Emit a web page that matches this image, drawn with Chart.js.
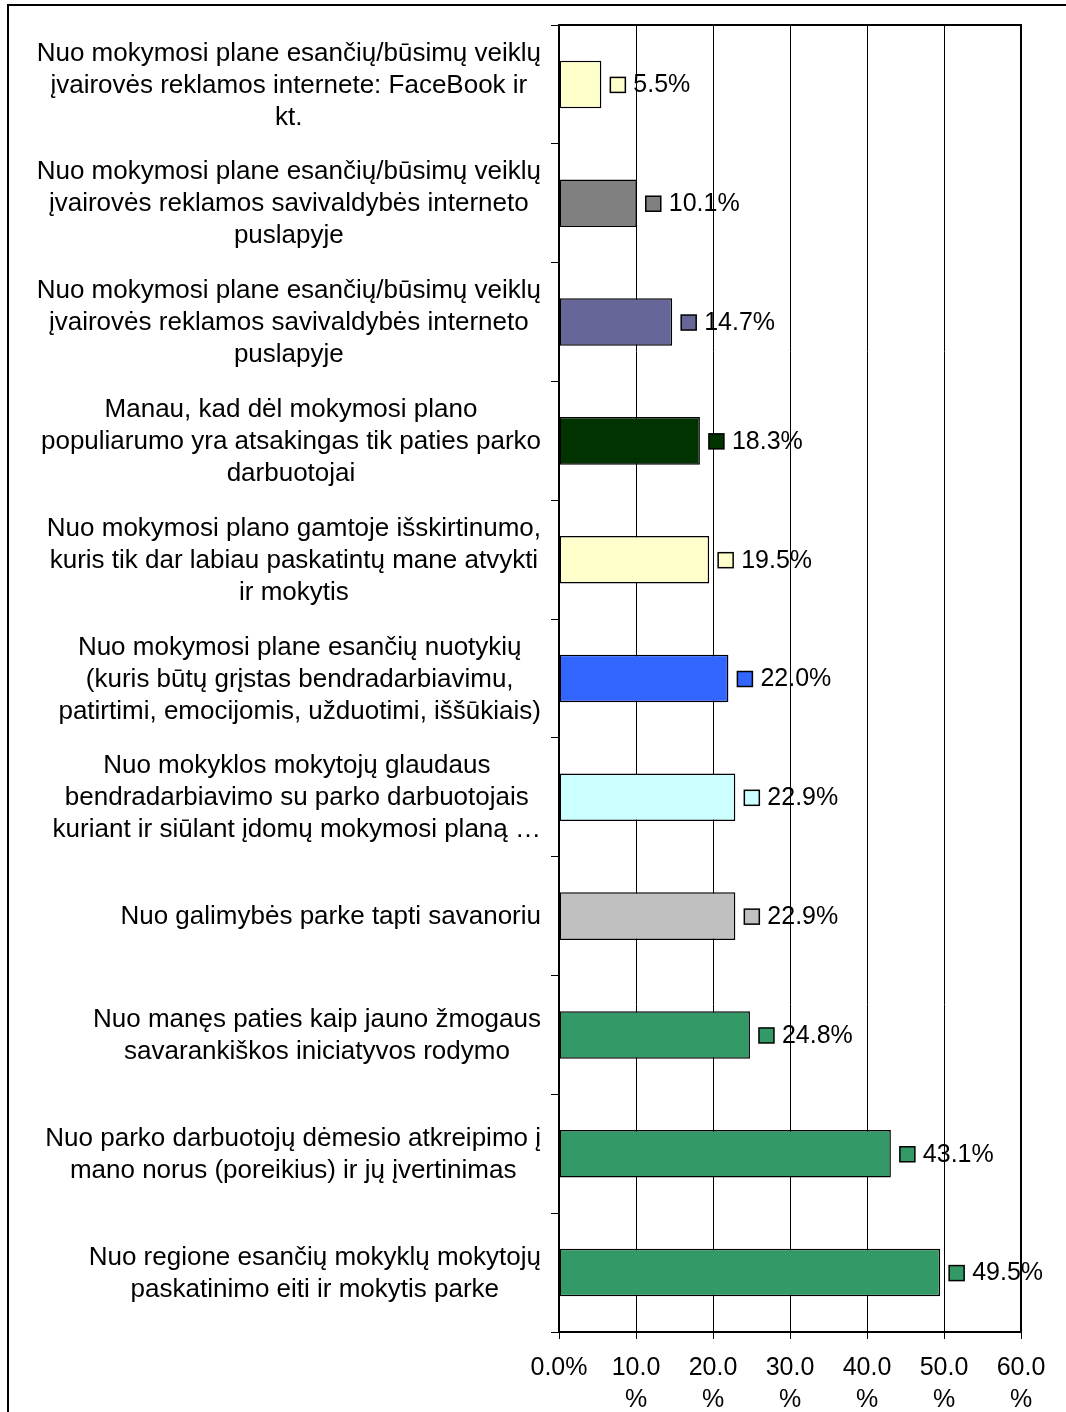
<!DOCTYPE html>
<html>
<head>
<meta charset="utf-8">
<script src="https://cdn.jsdelivr.net/npm/chart.js@4/dist/chart.umd.min.js"></script>
<style>
    body { margin: 0; background: #fff; }
    #wrap { position: relative; width: 1066px; height: 1412px; overflow: hidden; }
    #frame { position: absolute; left: 7px; top: 4px; width: 1200px; height: 1600px;
             border-left: 2px solid #000; border-top: 2px solid #000; pointer-events: none; }
    canvas { position: absolute; left: 0; top: 0; }
</style>
</head>
<body>
<div id="wrap">
    <canvas id="chart" width="1066" height="1412"></canvas>
    <div id="frame"></div>
</div>
<script>
// Kategorijos (iš viršaus į apačią)
const categories = [
    ['Nuo mokymosi plane esančių/būsimų veiklų', 'įvairovės reklamos internete: FaceBook ir', 'kt.'],
    ['Nuo mokymosi plane esančių/būsimų veiklų', 'įvairovės reklamos savivaldybės interneto', 'puslapyje'],
    ['Nuo mokymosi plane esančių/būsimų veiklų', 'įvairovės reklamos savivaldybės interneto', 'puslapyje'],
    ['Manau, kad dėl mokymosi plano', 'populiarumo yra atsakingas tik paties parko', 'darbuotojai'],
    ['Nuo mokymosi plano gamtoje išskirtinumo,', 'kuris tik dar labiau paskatintų mane atvykti', 'ir mokytis'],
    ['Nuo mokymosi plane esančių nuotykių', '(kuris būtų grįstas bendradarbiavimu,', 'patirtimi, emocijomis, užduotimi, iššūkiais)'],
    ['Nuo mokyklos mokytojų glaudaus', 'bendradarbiavimo su parko darbuotojais', 'kuriant ir siūlant įdomų mokymosi planą …'],
    ['Nuo galimybės parke tapti savanoriu'],
    ['Nuo manęs paties kaip jauno žmogaus', 'savarankiškos iniciatyvos rodymo'],
    ['Nuo parko darbuotojų dėmesio atkreipimo į', 'mano norus (poreikius) ir jų įvertinimas'],
    ['Nuo regione esančių mokyklų mokytojų', 'paskatinimo eiti ir mokytis parke']
];

// Reikšmės, %
const values = [5.5, 10.1, 14.7, 18.3, 19.5, 22.0, 22.9, 22.9, 24.8, 43.1, 49.5];

// Stulpelių spalvos
const barColors = ['#FFFFCC', '#808080', '#666699', '#003300', '#FFFFCC', '#3366FF',
                   '#CCFFFF', '#C0C0C0', '#339966', '#339966', '#339966'];

// X ašies žymės
const xTickLabels = ['0.0%', '10.0\n%', '20.0\n%', '30.0\n%', '40.0\n%', '50.0\n%', '60.0\n%'];

const FONT = '"Liberation Sans", Arial, sans-serif';

// Kategorijų pavadinimai: kiekvienas blokas centruotas, blokai prispausti prie ašies
const categoryLabelsPlugin = {
    id: 'categoryLabels',
    afterDraw(chart) {
        const ctx = chart.ctx;
        const yScale = chart.scales.y;
        const rightEdge = yScale.right - 8 - 10;
        const lineH = 32;
        ctx.save();
        ctx.font = '26px ' + FONT;
        ctx.fillStyle = '#000';
        ctx.textAlign = 'center';
        ctx.textBaseline = 'middle';
        categories.forEach((lines, i) => {
            const y = yScale.getPixelForTick(i);
            const w = Math.max(...lines.map(l => ctx.measureText(l).width));
            const cx = rightEdge - w / 2;
            lines.forEach((line, j) => {
                ctx.fillText(line, cx, y + (j - (lines.length - 1) / 2) * lineH + 1);
            });
        });
        ctx.restore();
    }
};

// Reikšmių etiketės su spalvotu kvadratėliu
const valueLabelsPlugin = {
    id: 'valueLabels',
    afterDatasetsDraw(chart) {
        const ctx = chart.ctx;
        const meta = chart.getDatasetMeta(0);
        ctx.save();
        ctx.font = '25px ' + FONT;
        ctx.textBaseline = 'middle';
        ctx.textAlign = 'left';
        meta.data.forEach((bar, i) => {
            const x = bar.x + 9;
            const y = bar.y;
            ctx.fillStyle = barColors[i];
            ctx.fillRect(x, y - 7, 15, 15);
            ctx.lineWidth = 1.5;
            ctx.strokeStyle = '#000';
            ctx.strokeRect(x, y - 7, 15, 15);
            ctx.fillStyle = '#000';
            ctx.fillText(values[i].toFixed(1) + '%', x + 23, y + 1);
        });
        ctx.restore();
    }
};

// Viršutinė ir dešinė brėžinio ploto linijos
const plotFramePlugin = {
    id: 'plotFrame',
    afterDraw(chart) {
        const { ctx, chartArea } = chart;
        ctx.save();
        ctx.strokeStyle = '#000';
        ctx.lineWidth = 2;
        ctx.beginPath();
        ctx.moveTo(chartArea.left, chartArea.top);
        ctx.lineTo(chartArea.right, chartArea.top);
        ctx.lineTo(chartArea.right, chartArea.bottom);
        ctx.stroke();
        ctx.restore();
    }
};

new Chart(document.getElementById('chart'), {
    type: 'bar',
    data: {
        labels: categories,
        datasets: [{
            data: values,
            backgroundColor: barColors,
            borderColor: '#000',
            borderWidth: 1.5,
            borderSkipped: false,
            barPercentage: 0.4,
            categoryPercentage: 1
        }]
    },
    options: {
        indexAxis: 'y',
        responsive: false,
        animation: false,
        devicePixelRatio: 1,
        layout: { padding: { top: 25, right: 45, left: 0, bottom: 0 } },
        plugins: {
            legend: { display: false },
            tooltip: { enabled: false }
        },
        scales: {
            x: {
                min: 0,
                max: 60,
                ticks: {
                    stepSize: 10,
                    padding: 13,
                    color: '#000',
                    maxRotation: 0,
                    autoSkip: false,
                    font: { family: FONT, size: 25, lineHeight: 1.28 },
                    callback: (v, i) => xTickLabels[i].split('\n')
                },
                grid: { color: '#000', lineWidth: 1, tickLength: 7 },
                border: { color: '#000', width: 2 },
                afterFit: (axis) => { axis.height = 80; }
            },
            y: {
                offset: true,
                ticks: { display: false },
                grid: { offset: true, drawOnChartArea: false, color: '#000', tickLength: 8, lineWidth: 1 },
                border: { color: '#000', width: 2 },
                afterFit: (axis) => { axis.width = 559; }
            }
        }
    },
    plugins: [categoryLabelsPlugin, valueLabelsPlugin, plotFramePlugin]
});
</script>
</body>
</html>
